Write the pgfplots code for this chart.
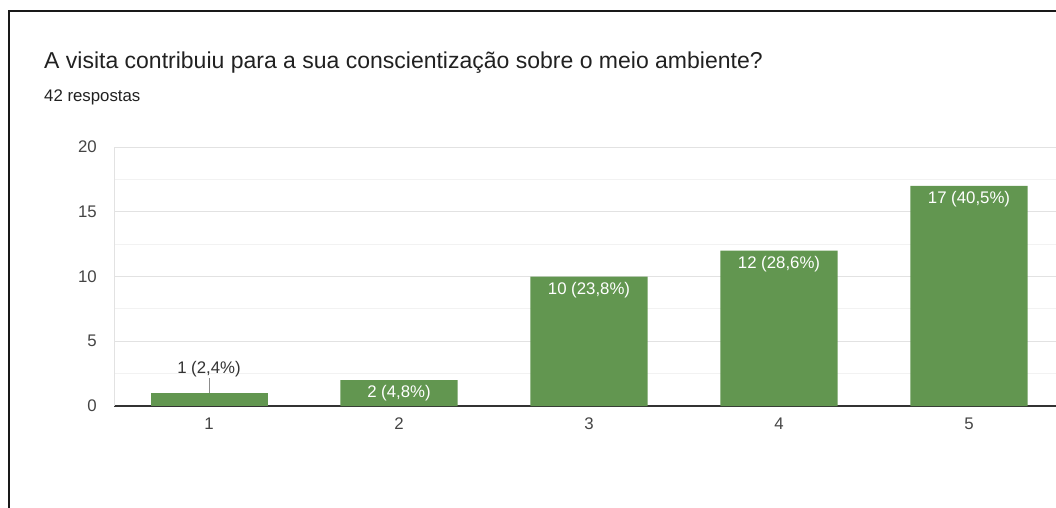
\documentclass[border=0pt]{standalone}
\usepackage{fontspec}
\setmainfont{Liberation Sans}
\usepackage{pgfplots}
\pgfplotsset{compat=1.18}
\definecolor{barg}{RGB}{98,150,80}
\definecolor{gridmaj}{RGB}{226,226,226}
\definecolor{gridmin}{RGB}{242,242,242}
\definecolor{ticktxt}{RGB}{68,68,68}
\definecolor{titletxt}{RGB}{33,33,33}

\begin{document}
\begin{tikzpicture}
\begin{axis}[
  at={(114pt,101pt)}, anchor=south west,
  scale only axis, width=942pt, height=259pt,
  xmin=0.5, xmax=5.458, ymin=0, ymax=20,
  xtick={1,2,3,4,5}, ytick={0,5,10,15,20},
  minor ytick={2.5,7.5,12.5,17.5},
  ymajorgrids, yminorgrids,
  major grid style={gridmaj, line width=1pt},
  minor grid style={gridmin, line width=1pt},
  axis lines*=left,
  x axis line style={black!80, line width=1.5pt},
  y axis line style={gridmaj, line width=1pt},
  major tick length=0pt, minor tick length=0pt,
  tick label style={font=\fontsize{16.8}{20}\selectfont, text=ticktxt, inner sep=0pt},
  yticklabel style={anchor=east, xshift=-17pt},
  xticklabel style={anchor=north, yshift=-11.5pt},
  /pgf/number format/assume math mode=true,
  clip=false,
]
% bars 2-5, labels inside in white
\addplot[ybar, bar width=117pt, bar shift=0pt, fill=barg, draw=none,
  nodes near coords, point meta=explicit symbolic,
  every node near coord/.append style={anchor=center, yshift=-13.5pt, text=white, inner sep=0pt, font=\fontsize{16.8}{20}\selectfont}]
  coordinates {(2,2) [2 (4,8\%)] (3,10) [10 (23,8\%)] (4,12) [12 (28,6\%)] (5,17) [17 (40,5\%)]};
% bar 1, label above with leader line
\addplot[ybar, bar width=117pt, bar shift=0pt, fill=barg, draw=none,
  nodes near coords, point meta=explicit symbolic,
  every node near coord/.append style={anchor=center, yshift=24pt, text=black!80, inner sep=0pt, font=\fontsize{16.8}{20}\selectfont}]
  coordinates {(1,1) [1 (2,4\%)]};
\addplot[sharp plot, no marks, black!45, line width=0.8pt] coordinates {(1,1) (1,2.2)};
\end{axis}
\draw[line width=2pt, black!90] (8.5pt,-5pt) -- (8.5pt,496pt) -- (1065pt,496pt);
\node[anchor=base west, inner sep=0pt, text=titletxt, font=\fontsize{23}{28}\selectfont] at (44pt,438pt) {A visita contribuiu para a sua conscientização sobre o meio ambiente?};
\node[anchor=base west, inner sep=0pt, text=titletxt, font=\fontsize{16.8}{20}\selectfont] at (44pt,405.3pt) {42 respostas};
\pgfresetboundingbox
\useasboundingbox (0,0) rectangle (1056pt,507pt);
\end{tikzpicture}
\end{document}
